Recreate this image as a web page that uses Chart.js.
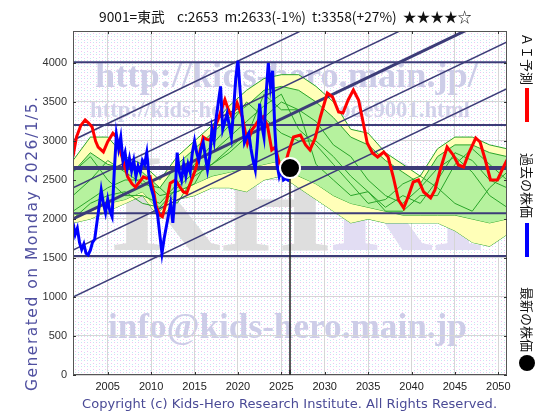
<!DOCTYPE html>
<html>
<head>
<meta charset="utf-8">
<script src="https://cdn.jsdelivr.net/npm/chart.js@4.4.1/dist/chart.umd.min.js"></script>
<style>
  html, body { margin: 0; padding: 0; background: #fff; }
  canvas { display: block; }
</style>
</head>
<body>
<canvas id="chart" width="560" height="420"></canvas>
<script>
// Axis ticks
const xTicks = [2005, 2010, 2015, 2020, 2025, 2030, 2035, 2040, 2045, 2050];
const yTicks = [0, 500, 1000, 1500, 2000, 2500, 3000, 3500, 4000];

// Latest price
const latestYear = 2026;
const latestPrice = 2653;

// Past prices (quarterly from 2001)
const blueStart = 2001;
const blueStep = 0.25;
const bluePrices = [
  1950, 1800, 1880, 1700, 1610, 1680, 1560, 1540, 1600, 1700, 1740, 1950,
  2150, 2370, 2200, 2080, 2250, 2100, 2030, 2600, 3080, 2900, 3050, 2750,
  2850, 2650, 2780, 2620, 2750, 2550, 2680, 2600, 2750, 2700, 2850, 2550,
  2400, 2300, 2150, 2050, 1800, 1560, 1750, 1900, 2050, 2200, 1950, 2300,
  2850, 2600, 2500, 2700, 2550, 2700, 2600, 2850, 3000, 2850, 2750, 2900,
  2980, 2800, 2630, 2800, 3150, 3000, 3300, 3500, 3700, 3150, 3250, 3350,
  3200, 3050, 3400, 3800, 4030, 3650, 3300, 2980, 3050, 3100, 2900, 2750,
  2630, 3000, 3480, 3200, 3050, 3600, 4000, 3700, 3900, 3150, 2700, 2550,
  2650, 2500, 2520, 2500, 2560
];

// AI prediction
const redYears = [
  2001.0, 2001.4, 2001.9, 2002.4, 2002.8, 2003.2, 2003.6, 2003.9, 2004.5, 2005.0,
  2005.6, 2006.0, 2006.4, 2006.9, 2007.3, 2007.8, 2008.2, 2008.7, 2009.1, 2009.5,
  2009.9, 2010.3, 2010.6, 2011.0, 2011.3, 2011.8, 2012.2, 2012.8, 2013.3, 2013.7,
  2014.1, 2014.6, 2015.1, 2015.6, 2016.0, 2016.4, 2016.8, 2017.2, 2017.7, 2018.1,
  2018.5, 2018.9, 2019.3, 2019.9, 2020.5, 2021.1, 2021.6, 2022.0, 2022.4, 2022.9,
  2023.4, 2023.9, 2024.3, 2024.8, 2025.3, 2025.8, 2026.4, 2027.2, 2027.8, 2028.3,
  2028.9, 2029.5, 2030.3, 2030.9, 2031.6, 2032.1, 2032.7, 2033.3, 2033.9, 2034.3,
  2034.9, 2035.5, 2036.1, 2036.8, 2037.3, 2037.9, 2038.5, 2039.1, 2039.6, 2040.2,
  2040.8, 2041.4, 2042.2, 2042.7, 2043.3, 2044.1, 2044.8, 2045.4, 2046.0, 2046.6,
  2047.4, 2047.9, 2048.5, 2049.1, 2049.9, 2050.6, 2051.0
];
const redValues = [
  2800, 3050, 3200, 3270, 3230, 3180, 3000, 2920, 2860, 2990,
  3100, 3050, 2885, 2700, 2540, 2450, 2410, 2480, 2540, 2520,
  2540, 2350, 2150, 2050, 2030, 2240, 2460, 2500, 2410, 2350,
  2330, 2480, 2630, 2850, 3050, 3020, 3010, 3150, 3270, 3400,
  3530, 3400, 3310, 3490, 3310, 2970, 3140, 3200, 3270, 3310,
  3200, 2885, 2920, 2700, 2640, 2846, 3051, 3077, 2949, 2885,
  3038, 3308, 3615, 3564, 3372, 3359, 3526, 3654, 3526, 3308,
  2974, 2846, 2795, 2859, 2795, 2538, 2244, 2141, 2282, 2474,
  2500, 2346, 2269, 2372, 2628, 2923, 2821, 2692, 2667, 2846,
  3038, 2987, 2756, 2500, 2500, 2667, 2756
];

// Similar-pattern bands and paths
const bandYears = [2001, 2003, 2005, 2007, 2009, 2011, 2013, 2015, 2017, 2019, 2021, 2023, 2025,
                   2027, 2029, 2031, 2033, 2035, 2037, 2039, 2041, 2043, 2045, 2047, 2049, 2051];
const yellowHigh = [2750, 3050, 3050, 2800, 2700, 2500, 2800, 3000, 3200, 3450, 3650, 3800, 3850,
                    3850, 3700, 3500, 3150, 3100, 2850, 2700, 2550, 2900, 3050, 3050, 2950, 2900];
const yellowLow = [1950, 2000, 2100, 2200, 2300, 2000, 2250, 2300, 2400, 2400, 2350, 2500, 2550,
                   2400, 2250, 2100, 1950, 2000, 1950, 1950, 1950, 1950, 1850, 1700, 1650, 1800];
const greenHigh = [2600, 2850, 2700, 2650, 2600, 2400, 2700, 2900, 3100, 3300, 3450, 3650, 3700,
                   3650, 3500, 3300, 3050, 2950, 2750, 2600, 2450, 2800, 2950, 2950, 2850, 2800];
const greenLow = [2050, 2100, 2200, 2250, 2350, 2100, 2350, 2450, 2550, 2600, 2650, 2700, 2750,
                  2550, 2450, 2300, 2200, 2150, 2100, 2050, 2050, 2050, 2050, 2000, 1950, 2000];
const pathA = [2300, 2500, 2750, 2600, 2450, 2400, 2200, 2550, 2700, 2900, 3100, 3300, 3500,
               3400, 3250, 2950, 2800, 2500, 2300, 2200, 2400, 2650, 2800, 2600, 2300, 2150];
const pathB = [2100, 2250, 2400, 2500, 2500, 2300, 2350, 2450, 2850, 3050, 3250, 3450, 3600,
               3150, 2950, 2700, 2450, 2200, 2250, 2450, 2550, 2400, 2200, 2100, 2400, 2600];
const pathC = [2600, 2800, 2500, 2300, 2300, 2200, 2450, 2700, 2950, 3200, 3500, 3300, 3100,
               3000, 3000, 2800, 2550, 2350, 2150, 2300, 2200, 2500, 2850, 2750, 2500, 2400];
const pathD = [2000, 2200, 2300, 2350, 2200, 2150, 2400, 2600, 2700, 2850, 3050, 3600, 3400,
               3400, 2700, 2500, 2300, 2350, 2100, 2100, 2300, 2300, 2700, 2900, 2700, 2500];

// Reference levels and trend channel (value at 2001 and at 2051)
const levelValues = [4010, 3205, 2075, 1525];
const channelStart = [3010, 2400, 2000, 1600, 1000];
const channelEnd = [5680, 5070, 4670, 4270, 3670];
const channelWidths = [1.5, 1.5, 3, 1.5, 1.5];

const xMin = 2001, xMax = 2051, yMax = 4410;
const navy = '#3c3c78';
const bandLine = '#2aa52a';

function series(xs, ys) {
  return ys.map((v, i) => ({ x: xs[i], y: v }));
}
function lineDs(data, color, width, extra) {
  return Object.assign({ data, borderColor: color, borderWidth: width, pointRadius: 0,
    fill: false, tension: 0, clip: 0 }, extra || {});
}

const datasets = [];
// top-most first
datasets.push({ data: [{ x: latestYear, y: latestPrice }], showLine: false, pointRadius: 10,
  pointBackgroundColor: '#000', pointBorderColor: '#fff', pointBorderWidth: 2, clip: false });
datasets.push(lineDs([{ x: latestYear, y: latestPrice }, { x: latestYear, y: 0 }], '#222', 1.5));
datasets.push(lineDs(bluePrices.map((v, i) => ({ x: blueStart + i * blueStep, y: v })), '#0000ff', 3));
datasets.push(lineDs(series(redYears, redValues), '#ff0000', 3));
datasets.push(lineDs([{ x: xMin, y: latestPrice }, { x: xMax, y: latestPrice }], navy, 4));
levelValues.forEach(v => datasets.push(lineDs([{ x: xMin, y: v }, { x: xMax, y: v }], navy, 2)));
channelStart.forEach((v, i) => datasets.push(lineDs([{ x: xMin, y: v }, { x: xMax, y: channelEnd[i] }], navy, channelWidths[i])));
[pathA, pathB, pathC, pathD].forEach(p => datasets.push(lineDs(series(bandYears, p), bandLine, 1)));
datasets.push(lineDs(series(bandYears, greenHigh), bandLine, 1, { fill: '+1', backgroundColor: '#b6f29e' }));
datasets.push(lineDs(series(bandYears, greenLow), bandLine, 1));
datasets.push(lineDs(series(bandYears, yellowHigh), bandLine, 1, { fill: '+1', backgroundColor: '#ffffb8' }));
datasets.push(lineDs(series(bandYears, yellowLow), bandLine, 1));

function dotPattern(ctx) {
  const p = document.createElement('canvas');
  p.width = 6; p.height = 6;
  const c = p.getContext('2d');
  c.fillStyle = '#ffffff'; c.fillRect(0, 0, 6, 6);
  c.fillStyle = '#f2c2f2'; c.fillRect(0, 0, 1, 1); c.fillRect(3, 3, 1, 1);
  c.fillStyle = '#c2eaf2'; c.fillRect(3, 0, 1, 1); c.fillRect(0, 4, 1, 1);
  return ctx.createPattern(p, 'repeat');
}

// scale the font so the text spans the given width
function fitText(ctx, text, x, y, width, family, weight) {
  const w = weight ? weight + ' ' : '';
  ctx.font = w + '100px ' + family;
  const size = 100 * width / ctx.measureText(text).width;
  ctx.font = w + size.toFixed(2) + 'px ' + family;
  ctx.fillText(text, x, y);
}
// keep the font size, stretch letter spacing to the given width
function spreadText(ctx, text, x, y, width, font) {
  ctx.font = font;
  ctx.letterSpacing = '0px';
  const extra = (width - ctx.measureText(text).width) / (text.length - 1);
  ctx.letterSpacing = extra.toFixed(2) + 'px';
  ctx.fillText(text, x, y);
  ctx.letterSpacing = '0px';
}

const backdrop = {
  id: 'backdrop',
  beforeDraw(chart) {
    const { ctx, chartArea: a } = chart;
    ctx.save();
    ctx.fillStyle = '#fff';
    ctx.fillRect(0, 0, chart.width, chart.height);
    ctx.fillStyle = dotPattern(ctx);
    ctx.fillRect(a.left, a.top, a.right - a.left, a.bottom - a.top);
    ctx.beginPath();
    ctx.rect(a.left, a.top, a.right - a.left, a.bottom - a.top);
    ctx.clip();
    ctx.textAlign = 'left';
    ctx.textBaseline = 'alphabetic';
    // big letters
    ctx.font = 'bold 140px "Liberation Serif"';
    ctx.fillStyle = '#dedede';
    ctx.fillText('KH', 112, 250);
    const w = ctx.measureText('KH').width;
    ctx.fillStyle = '#e2ddf3';
    ctx.fillText('RI', 112 + w, 250);
    // url / mail watermarks
    ctx.fillStyle = '#cdcde8';
    fitText(ctx, 'http://kids-hero.main.jp/', 95, 87, 383, '"Liberation Serif"', 'bold');
    ctx.fillStyle = '#d2d2ea';
    fitText(ctx, 'http://kids-hero.main.jp/code9001.html', 90, 117, 380, '"Liberation Serif"', 'bold');
    ctx.fillStyle = '#cdcde8';
    fitText(ctx, 'info@kids-hero.main.jp', 108, 338, 359, '"Liberation Serif"', 'bold');
    ctx.restore();
  },
  afterDraw(chart) {
    const { ctx, chartArea: a, scales } = chart;
    ctx.save();
    // frame and inner ticks
    ctx.strokeStyle = '#555';
    ctx.lineWidth = 1;
    ctx.strokeRect(a.left + 0.5, a.top + 0.5, a.right - a.left - 1, a.bottom - a.top - 1);
    ctx.strokeStyle = '#333';
    ctx.beginPath();
    yTicks.forEach(v => {
      const y = Math.round(scales.y.getPixelForValue(v)) + 0.5;
      ctx.moveTo(a.left, y); ctx.lineTo(a.left + 3, y);
      ctx.moveTo(a.right, y); ctx.lineTo(a.right - 3, y);
    });
    xTicks.forEach(v => {
      const x = Math.round(scales.x.getPixelForValue(v)) + 0.5;
      ctx.moveTo(x, a.top); ctx.lineTo(x, a.top + 3);
      ctx.moveTo(x, a.bottom); ctx.lineTo(x, a.bottom - 3);
    });
    ctx.stroke();
    ctx.lineWidth = 2;
    ctx.beginPath();
    const lx = scales.x.getPixelForValue(latestYear);
    ctx.moveTo(lx, a.bottom); ctx.lineTo(lx, a.bottom - 5);
    ctx.stroke();

    // title
    ctx.fillStyle = '#111';
    ctx.textAlign = 'left';
    ctx.textBaseline = 'alphabetic';
    fitText(ctx, '9001=東武    c:2653  m:2633(-1%)  t:3358(+27%)  ★★★★☆', 99, 22, 373, '"Noto Sans CJK JP"');

    // copyright
    ctx.fillStyle = '#4a4a96';
    spreadText(ctx, 'Copyright (c) Kids-Hero Research Institute. All Rights Reserved.', 82, 408, 415, '13px "DejaVu Sans"');

    // generated on
    ctx.save();
    ctx.fillStyle = '#5050a0';
    ctx.translate(37, 391);
    ctx.rotate(-Math.PI / 2);
    spreadText(ctx, 'Generated on Monday 2026/1/5.', 0, 0, 294, '15.5px "DejaVu Sans"');
    ctx.restore();

    // right legend
    ctx.fillStyle = '#111';
    ctx.font = '13px "Noto Sans CJK JP"';
    ctx.textBaseline = 'middle';
    [['ＡＩ予測', 33], ['過去の株価', 153], ['最新の株価', 287]].forEach(([t, y]) => {
      ctx.save();
      ctx.translate(527, y);
      ctx.rotate(Math.PI / 2);
      ctx.fillText(t, 0, 0);
      ctx.restore();
    });
    ctx.fillStyle = '#ff0000';
    ctx.fillRect(525, 88, 4, 34);
    ctx.fillStyle = '#0000ff';
    ctx.fillRect(525, 223, 4, 34);
    ctx.fillStyle = '#000';
    ctx.beginPath();
    ctx.arc(527, 363, 8, 0, Math.PI * 2);
    ctx.fill();
    ctx.restore();
  }
};

const ctx = document.getElementById('chart').getContext('2d');
new Chart(ctx, {
  type: 'line',
  data: { datasets },
  options: {
    responsive: false,
    animation: false,
    events: [],
    layout: { padding: { left: 0, right: 53, top: 31, bottom: 0 } },
    plugins: { legend: { display: false }, tooltip: { enabled: false } },
    scales: {
      x: {
        type: 'linear', min: xMin, max: xMax,
        afterBuildTicks: s => { s.ticks = xTicks.map(v => ({ value: v })); },
        afterFit: s => { s.height = 45; },
        grid: { color: '#d6d6d6', drawTicks: false },
        border: { display: false },
        ticks: { padding: 5, color: '#222', font: { size: 11, family: 'Liberation Sans' }, callback: v => String(v) }
      },
      y: {
        type: 'linear', min: 0, max: yMax,
        afterBuildTicks: s => { s.ticks = yTicks.map(v => ({ value: v })); },
        afterFit: s => { s.width = 73; },
        grid: { color: '#d6d6d6', drawTicks: false },
        border: { display: false },
        ticks: { padding: 6, color: '#333', font: { size: 11, family: 'Liberation Sans' }, callback: v => String(v) }
      }
    }
  },
  plugins: [backdrop]
});
</script>
</body>
</html>
